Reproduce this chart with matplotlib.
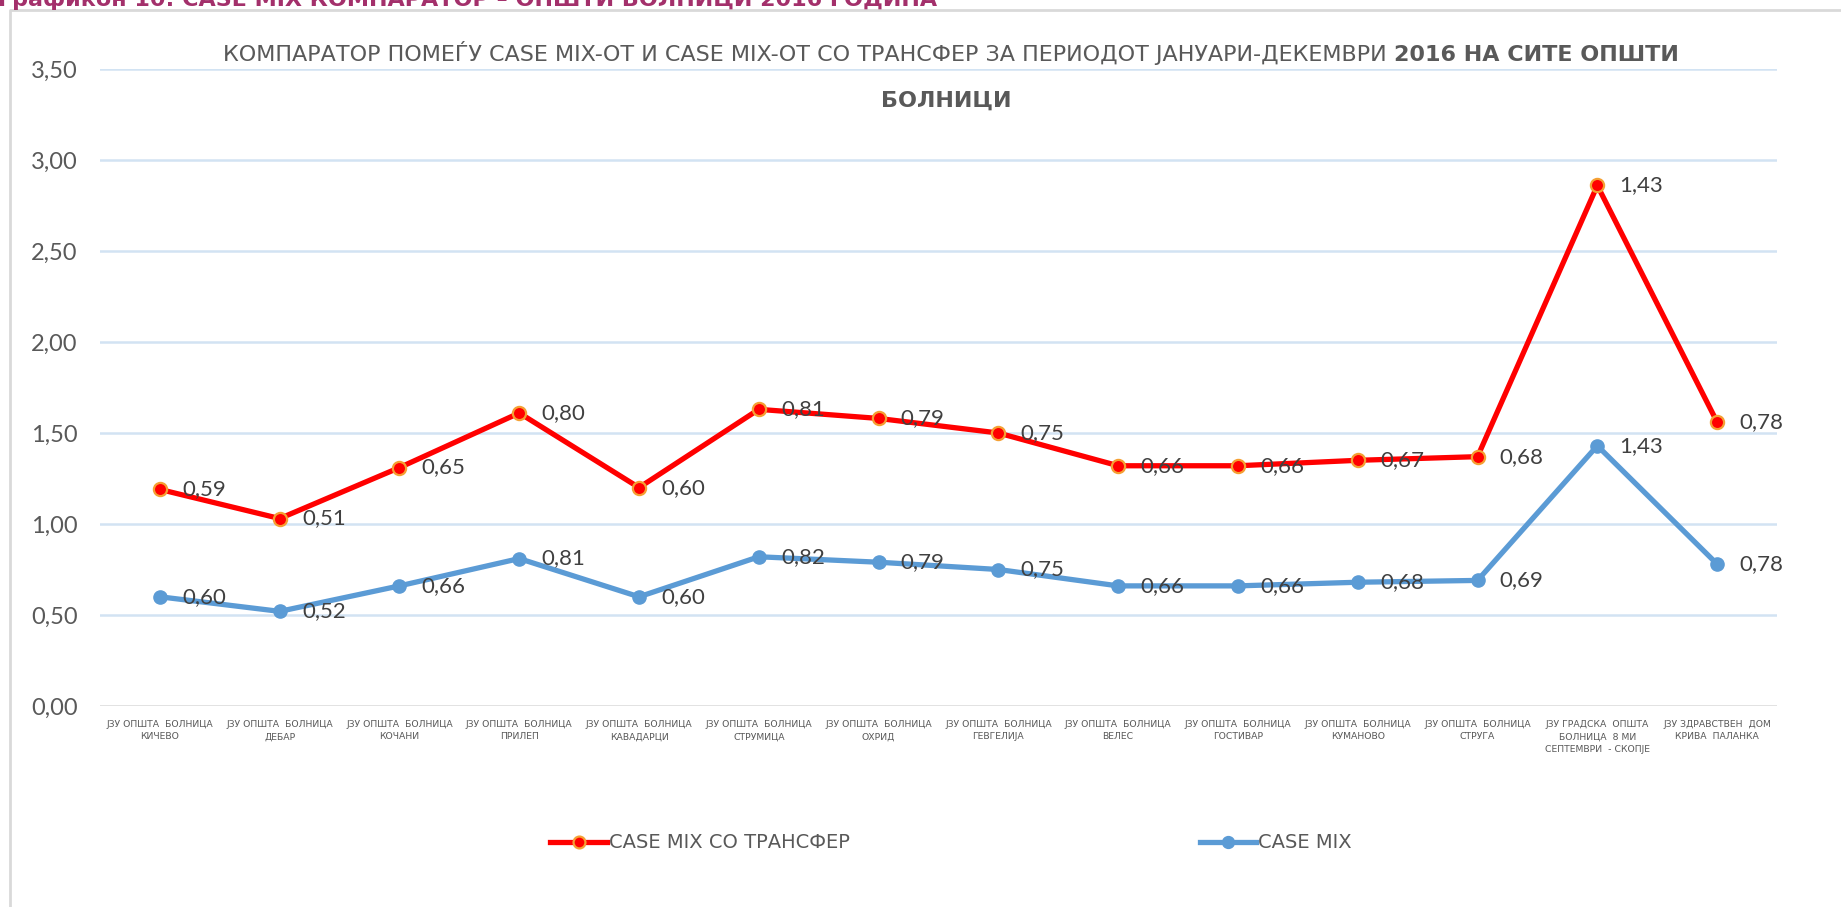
import matplotlib
matplotlib.use("Agg")
import numpy as np
import matplotlib.pyplot as plt
from matplotlib.lines import Line2D
from matplotlib import font_manager

# data
hospitals = [
    "ЈЗУ ОПШТА  БОЛНИЦА\nКИЧЕВО",
    "ЈЗУ ОПШТА  БОЛНИЦА\nДЕБАР",
    "ЈЗУ ОПШТА  БОЛНИЦА\nКОЧАНИ",
    "ЈЗУ ОПШТА  БОЛНИЦА\nПРИЛЕП",
    "ЈЗУ ОПШТА  БОЛНИЦА\nКАВАДАРЦИ",
    "ЈЗУ ОПШТА  БОЛНИЦА\nСТРУМИЦА",
    "ЈЗУ ОПШТА  БОЛНИЦА\nОХРИД",
    "ЈЗУ ОПШТА  БОЛНИЦА\nГЕВГЕЛИЈА",
    "ЈЗУ ОПШТА  БОЛНИЦА\nВЕЛЕС",
    "ЈЗУ ОПШТА  БОЛНИЦА\nГОСТИВАР",
    "ЈЗУ ОПШТА  БОЛНИЦА\nКУМАНОВО",
    "ЈЗУ ОПШТА  БОЛНИЦА\nСТРУГА",
    "ЈЗУ ГРАДСКА  ОПШТА\nБОЛНИЦА  8 МИ\nСЕПТЕМВРИ  - СКОПЈЕ",
    "ЈЗУ ЗДРАВСТВЕН  ДОМ\nКРИВА  ПАЛАНКА",
]
case_mix = [0.60, 0.52, 0.66, 0.81, 0.60, 0.82, 0.79, 0.75, 0.66, 0.66, 0.68, 0.69, 1.43, 0.78]
case_mix_transfer = [0.59, 0.51, 0.65, 0.80, 0.60, 0.81, 0.79, 0.75, 0.66, 0.66, 0.67, 0.68, 1.43, 0.78]
y_ticks = [0.0, 0.5, 1.0, 1.5, 2.0, 2.5, 3.0, 3.5]

installed = {f.name for f in font_manager.fontManager.ttflist}
NARROW = "Liberation Sans Narrow" if "Liberation Sans Narrow" in installed else "DejaVu Sans"
NUM = "Lato" if "Lato" in installed else "DejaVu Sans"

W, H = 1841, 907
fig = plt.figure(figsize=(W / 100, H / 100), dpi=100)
fig.patch.set_facecolor("white")

ax = fig.add_axes([100 / W, 1 - 706 / H, 1677 / W, 637 / H])

x = np.arange(len(hospitals))
blue = np.array(case_mix)
red = blue + np.array(case_mix_transfer)  # stacked line, as in Excel

ax.plot(x, red, color="#FF0000", lw=3.8, marker="o", ms=9.5,
        mfc="#FF0000", mec="#F5A033", mew=1.6, zorder=4,
        label="CASE MIX СО ТРАНСФЕР")
ax.plot(x, blue, color="#5B9BD5", lw=3.8, marker="o", ms=9.5,
        mfc="#5B9BD5", mec="#5B9BD5", zorder=3, label="CASE MIX")

for xi, yv, lab in zip(x, red, case_mix_transfer):
    ax.annotate(f"{lab:.2f}".replace(".", ","), (xi, yv), xytext=(16, 0),
                textcoords="offset points", va="center", ha="left",
                fontsize=16, color="#404040", family=NUM, zorder=5)
for xi, yv in zip(x, blue):
    ax.annotate(f"{yv:.2f}".replace(".", ","), (xi, yv), xytext=(16, 0),
                textcoords="offset points", va="center", ha="left",
                fontsize=16, color="#404040", family=NUM, zorder=5)

ax.set_xlim(-0.5, len(hospitals) - 0.5)
ax.set_ylim(0, 3.5)
ax.set_yticks(y_ticks)
ax.set_yticklabels([f"{v:.2f}".replace(".", ",") for v in y_ticks],
                   fontsize=17, color="#595959", family=NUM)
ax.set_xticks(x)
ax.set_xticklabels(hospitals, fontsize=6.7, color="#595959", family=NARROW,
                   linespacing=1.5)
ax.tick_params(axis="both", length=0)
ax.tick_params(axis="y", pad=16)
ax.tick_params(axis="x", pad=10)

for v in y_ticks[1:]:
    ax.axhline(v, color="#D2E3F3", lw=1.8, zorder=1)
ax.axhline(0, color="#D9D9D9", lw=1.8, zorder=1)
for s in ax.spines.values():
    s.set_visible(False)

leg = ax.legend(loc="center", bbox_to_anchor=(951 / W, 1 - 843 / H),
                bbox_transform=fig.transFigure, ncol=2, frameon=False,
                prop={"family": NARROW, "size": 14}, labelcolor="#595959",
                handlelength=2.9, handletextpad=0.1, columnspacing=18,
                markerscale=0.9)

# title, normal + bold part on one line
fig.canvas.draw()
r = fig.canvas.get_renderer()
ty = 1 - 61 / H
t1 = fig.text(0, ty, "КОМПАРАТОР ПОМЕЃУ CASE MIX-ОТ И CASE MIX-ОТ СО ТРАНСФЕР ЗА ПЕРИОДОТ ЈАНУАРИ-ДЕКЕМВРИ ",
              fontsize=16, color="#595959", family=NARROW, va="baseline", ha="left")
t2 = fig.text(0, ty, "2016 НА СИТЕ ОПШТИ", fontsize=16, color="#595959",
              family=NARROW, weight="bold", va="baseline", ha="left")
w1 = t1.get_window_extent(r).width
w2 = t2.get_window_extent(r).width
x0 = 951 - (w1 + w2) / 2
t1.set_x(x0 / W)
t2.set_x((x0 + w1) / W)
fig.text(946 / W, 1 - 107 / H, "БОЛНИЦИ", fontsize=16, color="#595959",
         family=NARROW, weight="bold", va="baseline", ha="center")

# caption at the very top, mostly cut off like in the source screenshot
fig.text(-2 / W, 1 - 6 / H, "Графикон 10: CASE MIX КОМПАРАТОР – ОПШТИ БОЛНИЦИ 2016 ГОДИНА",
         fontsize=16, color="#A3306B", weight="bold", family=NARROW,
         va="baseline", ha="left")

# chart frame (only top and left edges visible)
fig.add_artist(Line2D([10 / W, 10 / W, 1], [0, 1 - 10 / H, 1 - 10 / H],
                      transform=fig.transFigure, color="#D9D9D9", lw=2))

fig.savefig("out.png", dpi=100, facecolor="white")
